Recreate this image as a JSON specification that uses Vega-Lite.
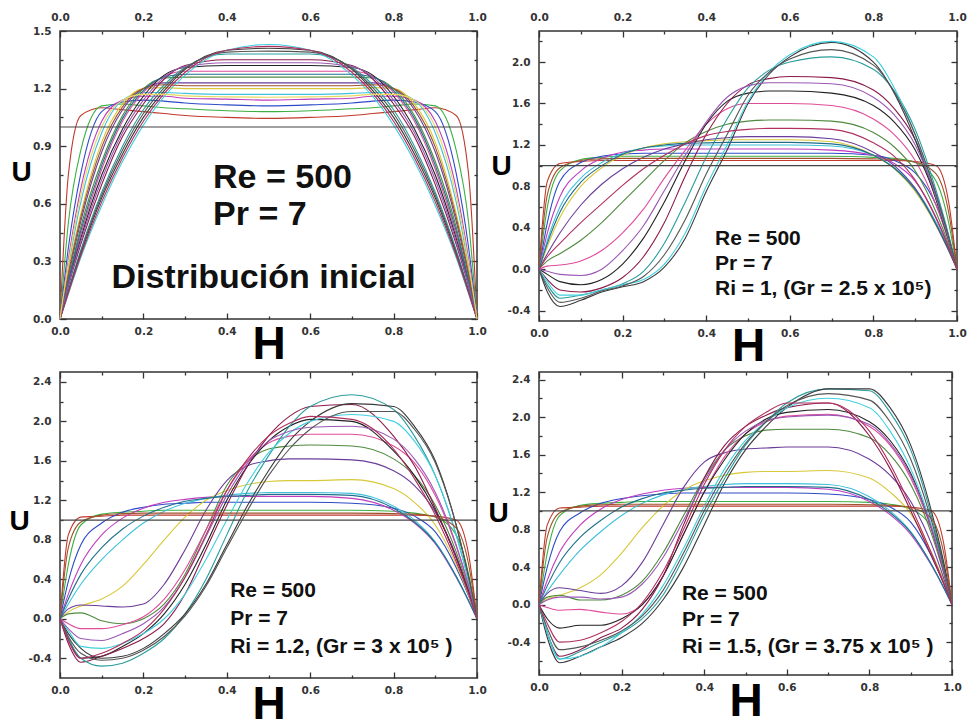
{
"$schema":"https://vega.github.io/schema/vega-lite/v6.json",
"background":"white",
"padding":{"left":8,"top":11,"right":5,"bottom":0},
"config":{
 "view":{"stroke":"#333","strokeWidth":1.5},
 "axis":{"domain":false,"grid":false,"tickColor":"#333","tickWidth":1.3,"labelFont":"DejaVu Sans","labelFontWeight":"bold","labelFontSize":10.5,"labelColor":"#333","titleFont":"Liberation Sans","titleFontWeight":"bold","titleColor":"#000","labelFlush":false,"labelOverlap":false,"labelBound":false},
 "locale":{"number":{"decimal":".","thousands":",","grouping":[3],"currency":["$",""],"minus":"-"}}
},
"datasets":{
"d1":[
{"c":1,"h":0,"u":0},{"c":1,"h":0.02,"u":0.75},{"c":1,"h":0.05,"u":1.06},{"c":1,"h":0.1,"u":1.1},{"c":1,"h":0.15,"u":1.09},{"c":1,"h":0.2,"u":1.08},{"c":1,"h":0.25,"u":1.07},{"c":1,"h":0.3,"u":1.06},{"c":1,"h":0.4,"u":1.05},{"c":1,"h":0.5,"u":1.045},{"c":1,"h":0.6,"u":1.05},{"c":1,"h":0.7,"u":1.06},{"c":1,"h":0.75,"u":1.07},{"c":1,"h":0.8,"u":1.08},{"c":1,"h":0.85,"u":1.09},{"c":1,"h":0.9,"u":1.1},{"c":1,"h":0.95,"u":1.06},{"c":1,"h":0.98,"u":0.75},{"c":1,"h":1,"u":0},
{"c":2,"h":0,"u":0},{"c":2,"h":0.02,"u":0.5},{"c":2,"h":0.05,"u":0.88},{"c":2,"h":0.1,"u":1.11},{"c":2,"h":0.15,"u":1.12},{"c":2,"h":0.2,"u":1.11},{"c":2,"h":0.25,"u":1.1},{"c":2,"h":0.3,"u":1.095},{"c":2,"h":0.4,"u":1.085},{"c":2,"h":0.5,"u":1.08},{"c":2,"h":0.6,"u":1.085},{"c":2,"h":0.7,"u":1.095},{"c":2,"h":0.75,"u":1.1},{"c":2,"h":0.8,"u":1.11},{"c":2,"h":0.85,"u":1.12},{"c":2,"h":0.9,"u":1.11},{"c":2,"h":0.95,"u":0.88},{"c":2,"h":0.98,"u":0.5},{"c":2,"h":1,"u":0},
{"c":3,"h":0,"u":0},{"c":3,"h":0.02,"u":0.37},{"c":3,"h":0.05,"u":0.76},{"c":3,"h":0.1,"u":1.08},{"c":3,"h":0.15,"u":1.13},{"c":3,"h":0.2,"u":1.14},{"c":3,"h":0.25,"u":1.135},{"c":3,"h":0.3,"u":1.125},{"c":3,"h":0.4,"u":1.115},{"c":3,"h":0.5,"u":1.11},{"c":3,"h":0.6,"u":1.115},{"c":3,"h":0.7,"u":1.125},{"c":3,"h":0.75,"u":1.135},{"c":3,"h":0.8,"u":1.14},{"c":3,"h":0.85,"u":1.13},{"c":3,"h":0.9,"u":1.08},{"c":3,"h":0.95,"u":0.76},{"c":3,"h":0.98,"u":0.37},{"c":3,"h":1,"u":0},
{"c":4,"h":0,"u":0},{"c":4,"h":0.02,"u":0.31},{"c":4,"h":0.05,"u":0.68},{"c":4,"h":0.1,"u":1.03},{"c":4,"h":0.15,"u":1.14},{"c":4,"h":0.2,"u":1.16},{"c":4,"h":0.25,"u":1.16},{"c":4,"h":0.3,"u":1.15},{"c":4,"h":0.4,"u":1.145},{"c":4,"h":0.5,"u":1.14},{"c":4,"h":0.6,"u":1.145},{"c":4,"h":0.7,"u":1.15},{"c":4,"h":0.75,"u":1.16},{"c":4,"h":0.8,"u":1.16},{"c":4,"h":0.85,"u":1.14},{"c":4,"h":0.9,"u":1.03},{"c":4,"h":0.95,"u":0.68},{"c":4,"h":0.98,"u":0.31},{"c":4,"h":1,"u":0},
{"c":5,"h":0,"u":0},{"c":5,"h":0.02,"u":0.27},{"c":5,"h":0.05,"u":0.61},{"c":5,"h":0.1,"u":0.97},{"c":5,"h":0.15,"u":1.14},{"c":5,"h":0.2,"u":1.18},{"c":5,"h":0.25,"u":1.18},{"c":5,"h":0.3,"u":1.175},{"c":5,"h":0.4,"u":1.17},{"c":5,"h":0.5,"u":1.17},{"c":5,"h":0.6,"u":1.17},{"c":5,"h":0.7,"u":1.175},{"c":5,"h":0.75,"u":1.18},{"c":5,"h":0.8,"u":1.18},{"c":5,"h":0.85,"u":1.14},{"c":5,"h":0.9,"u":0.97},{"c":5,"h":0.95,"u":0.61},{"c":5,"h":0.98,"u":0.27},{"c":5,"h":1,"u":0},
{"c":6,"h":0,"u":0},{"c":6,"h":0.02,"u":0.25},{"c":6,"h":0.05,"u":0.55},{"c":6,"h":0.1,"u":0.92},{"c":6,"h":0.15,"u":1.12},{"c":6,"h":0.2,"u":1.2},{"c":6,"h":0.25,"u":1.205},{"c":6,"h":0.3,"u":1.2},{"c":6,"h":0.4,"u":1.2},{"c":6,"h":0.5,"u":1.2},{"c":6,"h":0.6,"u":1.2},{"c":6,"h":0.7,"u":1.2},{"c":6,"h":0.75,"u":1.205},{"c":6,"h":0.8,"u":1.2},{"c":6,"h":0.85,"u":1.12},{"c":6,"h":0.9,"u":0.92},{"c":6,"h":0.95,"u":0.55},{"c":6,"h":0.98,"u":0.25},{"c":6,"h":1,"u":0},
{"c":7,"h":0,"u":0},{"c":7,"h":0.02,"u":0.22},{"c":7,"h":0.05,"u":0.51},{"c":7,"h":0.1,"u":0.87},{"c":7,"h":0.15,"u":1.09},{"c":7,"h":0.2,"u":1.2},{"c":7,"h":0.25,"u":1.23},{"c":7,"h":0.3,"u":1.23},{"c":7,"h":0.4,"u":1.23},{"c":7,"h":0.5,"u":1.23},{"c":7,"h":0.6,"u":1.23},{"c":7,"h":0.7,"u":1.23},{"c":7,"h":0.75,"u":1.23},{"c":7,"h":0.8,"u":1.2},{"c":7,"h":0.85,"u":1.09},{"c":7,"h":0.9,"u":0.87},{"c":7,"h":0.95,"u":0.51},{"c":7,"h":0.98,"u":0.22},{"c":7,"h":1,"u":0},
{"c":8,"h":0,"u":0},{"c":8,"h":0.02,"u":0.2},{"c":8,"h":0.05,"u":0.48},{"c":8,"h":0.1,"u":0.82},{"c":8,"h":0.15,"u":1.06},{"c":8,"h":0.2,"u":1.2},{"c":8,"h":0.25,"u":1.255},{"c":8,"h":0.3,"u":1.26},{"c":8,"h":0.4,"u":1.26},{"c":8,"h":0.5,"u":1.26},{"c":8,"h":0.6,"u":1.26},{"c":8,"h":0.7,"u":1.26},{"c":8,"h":0.75,"u":1.255},{"c":8,"h":0.8,"u":1.2},{"c":8,"h":0.85,"u":1.06},{"c":8,"h":0.9,"u":0.82},{"c":8,"h":0.95,"u":0.48},{"c":8,"h":0.98,"u":0.2},{"c":8,"h":1,"u":0},
{"c":9,"h":0,"u":0},{"c":9,"h":0.02,"u":0.19},{"c":9,"h":0.05,"u":0.44},{"c":9,"h":0.1,"u":0.78},{"c":9,"h":0.15,"u":1.03},{"c":9,"h":0.2,"u":1.18},{"c":9,"h":0.25,"u":1.265},{"c":9,"h":0.3,"u":1.29},{"c":9,"h":0.4,"u":1.29},{"c":9,"h":0.5,"u":1.29},{"c":9,"h":0.6,"u":1.29},{"c":9,"h":0.7,"u":1.29},{"c":9,"h":0.75,"u":1.265},{"c":9,"h":0.8,"u":1.18},{"c":9,"h":0.85,"u":1.03},{"c":9,"h":0.9,"u":0.78},{"c":9,"h":0.95,"u":0.44},{"c":9,"h":0.98,"u":0.19},{"c":9,"h":1,"u":0},
{"c":10,"h":0,"u":0},{"c":10,"h":0.02,"u":0.18},{"c":10,"h":0.05,"u":0.42},{"c":10,"h":0.1,"u":0.75},{"c":10,"h":0.15,"u":0.99},{"c":10,"h":0.2,"u":1.16},{"c":10,"h":0.25,"u":1.27},{"c":10,"h":0.3,"u":1.31},{"c":10,"h":0.4,"u":1.32},{"c":10,"h":0.5,"u":1.32},{"c":10,"h":0.6,"u":1.32},{"c":10,"h":0.7,"u":1.31},{"c":10,"h":0.75,"u":1.27},{"c":10,"h":0.8,"u":1.16},{"c":10,"h":0.85,"u":0.99},{"c":10,"h":0.9,"u":0.75},{"c":10,"h":0.95,"u":0.42},{"c":10,"h":0.98,"u":0.18},{"c":10,"h":1,"u":0},
{"c":11,"h":0,"u":0},{"c":11,"h":0.02,"u":0.17},{"c":11,"h":0.05,"u":0.39},{"c":11,"h":0.1,"u":0.7},{"c":11,"h":0.15,"u":0.95},{"c":11,"h":0.2,"u":1.12},{"c":11,"h":0.25,"u":1.25},{"c":11,"h":0.3,"u":1.32},{"c":11,"h":0.4,"u":1.35},{"c":11,"h":0.5,"u":1.35},{"c":11,"h":0.6,"u":1.35},{"c":11,"h":0.7,"u":1.32},{"c":11,"h":0.75,"u":1.25},{"c":11,"h":0.8,"u":1.12},{"c":11,"h":0.85,"u":0.95},{"c":11,"h":0.9,"u":0.7},{"c":11,"h":0.95,"u":0.39},{"c":11,"h":0.98,"u":0.17},{"c":11,"h":1,"u":0},
{"c":12,"h":0,"u":0},{"c":12,"h":0.02,"u":0.15},{"c":12,"h":0.05,"u":0.36},{"c":12,"h":0.1,"u":0.66},{"c":12,"h":0.15,"u":0.9},{"c":12,"h":0.2,"u":1.09},{"c":12,"h":0.25,"u":1.22},{"c":12,"h":0.3,"u":1.31},{"c":12,"h":0.4,"u":1.38},{"c":12,"h":0.5,"u":1.38},{"c":12,"h":0.6,"u":1.38},{"c":12,"h":0.7,"u":1.31},{"c":12,"h":0.75,"u":1.22},{"c":12,"h":0.8,"u":1.09},{"c":12,"h":0.85,"u":0.9},{"c":12,"h":0.9,"u":0.66},{"c":12,"h":0.95,"u":0.36},{"c":12,"h":0.98,"u":0.15},{"c":12,"h":1,"u":0},
{"c":13,"h":0,"u":0},{"c":13,"h":0.02,"u":0.14},{"c":13,"h":0.05,"u":0.34},{"c":13,"h":0.1,"u":0.63},{"c":13,"h":0.15,"u":0.86},{"c":13,"h":0.2,"u":1.05},{"c":13,"h":0.25,"u":1.19},{"c":13,"h":0.3,"u":1.3},{"c":13,"h":0.4,"u":1.4},{"c":13,"h":0.5,"u":1.41},{"c":13,"h":0.6,"u":1.4},{"c":13,"h":0.7,"u":1.3},{"c":13,"h":0.75,"u":1.19},{"c":13,"h":0.8,"u":1.05},{"c":13,"h":0.85,"u":0.86},{"c":13,"h":0.9,"u":0.63},{"c":13,"h":0.95,"u":0.34},{"c":13,"h":0.98,"u":0.14},{"c":13,"h":1,"u":0},
{"c":14,"h":0,"u":0},{"c":14,"h":0.02,"u":0.13},{"c":14,"h":0.05,"u":0.32},{"c":14,"h":0.1,"u":0.59},{"c":14,"h":0.15,"u":0.82},{"c":14,"h":0.2,"u":1.01},{"c":14,"h":0.25,"u":1.16},{"c":14,"h":0.3,"u":1.27},{"c":14,"h":0.4,"u":1.4},{"c":14,"h":0.5,"u":1.43},{"c":14,"h":0.6,"u":1.4},{"c":14,"h":0.7,"u":1.27},{"c":14,"h":0.75,"u":1.16},{"c":14,"h":0.8,"u":1.01},{"c":14,"h":0.85,"u":0.82},{"c":14,"h":0.9,"u":0.59},{"c":14,"h":0.95,"u":0.32},{"c":14,"h":0.98,"u":0.13},{"c":14,"h":1,"u":0},
{"c":15,"h":0,"u":0},{"c":15,"h":0.02,"u":0.235},{"c":15,"h":0.05,"u":0.53},{"c":15,"h":0.1,"u":0.895},{"c":15,"h":0.15,"u":1.105},{"c":15,"h":0.2,"u":1.2},{"c":15,"h":0.25,"u":1.22},{"c":15,"h":0.3,"u":1.215},{"c":15,"h":0.4,"u":1.215},{"c":15,"h":0.5,"u":1.215},{"c":15,"h":0.6,"u":1.215},{"c":15,"h":0.7,"u":1.215},{"c":15,"h":0.75,"u":1.22},{"c":15,"h":0.8,"u":1.2},{"c":15,"h":0.85,"u":1.105},{"c":15,"h":0.9,"u":0.895},{"c":15,"h":0.95,"u":0.53},{"c":15,"h":0.98,"u":0.235},{"c":15,"h":1,"u":0},
{"c":16,"h":0,"u":0},{"c":16,"h":0.02,"u":0.195},{"c":16,"h":0.05,"u":0.46},{"c":16,"h":0.1,"u":0.8},{"c":16,"h":0.15,"u":1.045},{"c":16,"h":0.2,"u":1.19},{"c":16,"h":0.25,"u":1.26},{"c":16,"h":0.3,"u":1.275},{"c":16,"h":0.4,"u":1.275},{"c":16,"h":0.5,"u":1.275},{"c":16,"h":0.6,"u":1.275},{"c":16,"h":0.7,"u":1.275},{"c":16,"h":0.75,"u":1.26},{"c":16,"h":0.8,"u":1.19},{"c":16,"h":0.85,"u":1.045},{"c":16,"h":0.9,"u":0.8},{"c":16,"h":0.95,"u":0.46},{"c":16,"h":0.98,"u":0.195},{"c":16,"h":1,"u":0},
{"c":17,"h":0,"u":0},{"c":17,"h":0.02,"u":0.175},{"c":17,"h":0.05,"u":0.405},{"c":17,"h":0.1,"u":0.725},{"c":17,"h":0.15,"u":0.97},{"c":17,"h":0.2,"u":1.14},{"c":17,"h":0.25,"u":1.26},{"c":17,"h":0.3,"u":1.315},{"c":17,"h":0.4,"u":1.335},{"c":17,"h":0.5,"u":1.335},{"c":17,"h":0.6,"u":1.335},{"c":17,"h":0.7,"u":1.315},{"c":17,"h":0.75,"u":1.26},{"c":17,"h":0.8,"u":1.14},{"c":17,"h":0.85,"u":0.97},{"c":17,"h":0.9,"u":0.725},{"c":17,"h":0.95,"u":0.405},{"c":17,"h":0.98,"u":0.175},{"c":17,"h":1,"u":0},
{"c":18,"h":0,"u":0},{"c":18,"h":0.02,"u":0.145},{"c":18,"h":0.05,"u":0.35},{"c":18,"h":0.1,"u":0.645},{"c":18,"h":0.15,"u":0.88},{"c":18,"h":0.2,"u":1.07},{"c":18,"h":0.25,"u":1.205},{"c":18,"h":0.3,"u":1.305},{"c":18,"h":0.4,"u":1.39},{"c":18,"h":0.5,"u":1.395},{"c":18,"h":0.6,"u":1.39},{"c":18,"h":0.7,"u":1.305},{"c":18,"h":0.75,"u":1.205},{"c":18,"h":0.8,"u":1.07},{"c":18,"h":0.85,"u":0.88},{"c":18,"h":0.9,"u":0.645},{"c":18,"h":0.95,"u":0.35},{"c":18,"h":0.98,"u":0.145},{"c":18,"h":1,"u":0},
{"c":19,"h":0,"u":0},{"c":19,"h":0.02,"u":0.135},{"c":19,"h":0.05,"u":0.33},{"c":19,"h":0.1,"u":0.61},{"c":19,"h":0.15,"u":0.84},{"c":19,"h":0.2,"u":1.03},{"c":19,"h":0.25,"u":1.175},{"c":19,"h":0.3,"u":1.285},{"c":19,"h":0.4,"u":1.4},{"c":19,"h":0.5,"u":1.42},{"c":19,"h":0.6,"u":1.4},{"c":19,"h":0.7,"u":1.285},{"c":19,"h":0.75,"u":1.175},{"c":19,"h":0.8,"u":1.03},{"c":19,"h":0.85,"u":0.84},{"c":19,"h":0.9,"u":0.61},{"c":19,"h":0.95,"u":0.33},{"c":19,"h":0.98,"u":0.135},{"c":19,"h":1,"u":0},
{"c":20,"h":0,"u":0},{"c":20,"h":0.02,"u":0.29},{"c":20,"h":0.05,"u":0.645},{"c":20,"h":0.1,"u":1.0},{"c":20,"h":0.15,"u":1.14},{"c":20,"h":0.2,"u":1.17},{"c":20,"h":0.25,"u":1.17},{"c":20,"h":0.3,"u":1.162},{"c":20,"h":0.4,"u":1.157},{"c":20,"h":0.5,"u":1.155},{"c":20,"h":0.6,"u":1.157},{"c":20,"h":0.7,"u":1.162},{"c":20,"h":0.75,"u":1.17},{"c":20,"h":0.8,"u":1.17},{"c":20,"h":0.85,"u":1.14},{"c":20,"h":0.9,"u":1.0},{"c":20,"h":0.95,"u":0.645},{"c":20,"h":0.98,"u":0.29},{"c":20,"h":1,"u":0}
],
"d2":[
{"c":1,"h":0,"u":0},{"c":1,"h":0.02,"u":0.85},{"c":1,"h":0.05,"u":1.02},{"c":1,"h":0.1,"u":1.04},{"c":1,"h":0.15,"u":1.05},{"c":1,"h":0.2,"u":1.05},{"c":1,"h":0.25,"u":1.05},{"c":1,"h":0.3,"u":1.05},{"c":1,"h":0.35,"u":1.05},{"c":1,"h":0.4,"u":1.05},{"c":1,"h":0.45,"u":1.05},{"c":1,"h":0.5,"u":1.05},{"c":1,"h":0.55,"u":1.05},{"c":1,"h":0.6,"u":1.05},{"c":1,"h":0.7,"u":1.05},{"c":1,"h":0.8,"u":1.05},{"c":1,"h":0.85,"u":1.05},{"c":1,"h":0.9,"u":1.04},{"c":1,"h":0.95,"u":1.0},{"c":1,"h":0.98,"u":0.65},{"c":1,"h":1,"u":0},
{"c":2,"h":0,"u":0},{"c":2,"h":0.02,"u":0.6},{"c":2,"h":0.05,"u":0.95},{"c":2,"h":0.1,"u":1.06},{"c":2,"h":0.15,"u":1.08},{"c":2,"h":0.2,"u":1.09},{"c":2,"h":0.25,"u":1.09},{"c":2,"h":0.3,"u":1.09},{"c":2,"h":0.35,"u":1.09},{"c":2,"h":0.4,"u":1.09},{"c":2,"h":0.45,"u":1.09},{"c":2,"h":0.5,"u":1.09},{"c":2,"h":0.55,"u":1.09},{"c":2,"h":0.6,"u":1.09},{"c":2,"h":0.7,"u":1.09},{"c":2,"h":0.8,"u":1.08},{"c":2,"h":0.85,"u":1.07},{"c":2,"h":0.9,"u":1.03},{"c":2,"h":0.95,"u":0.85},{"c":2,"h":0.98,"u":0.45},{"c":2,"h":1,"u":0},
{"c":3,"h":0,"u":0},{"c":3,"h":0.02,"u":0.45},{"c":3,"h":0.05,"u":0.85},{"c":3,"h":0.1,"u":1.03},{"c":3,"h":0.15,"u":1.09},{"c":3,"h":0.2,"u":1.11},{"c":3,"h":0.25,"u":1.12},{"c":3,"h":0.3,"u":1.12},{"c":3,"h":0.35,"u":1.12},{"c":3,"h":0.4,"u":1.12},{"c":3,"h":0.45,"u":1.12},{"c":3,"h":0.5,"u":1.12},{"c":3,"h":0.55,"u":1.12},{"c":3,"h":0.6,"u":1.12},{"c":3,"h":0.7,"u":1.12},{"c":3,"h":0.8,"u":1.1},{"c":3,"h":0.85,"u":1.05},{"c":3,"h":0.9,"u":0.93},{"c":3,"h":0.95,"u":0.62},{"c":3,"h":0.98,"u":0.28},{"c":3,"h":1,"u":0},
{"c":4,"h":0,"u":0},{"c":4,"h":0.02,"u":0.35},{"c":4,"h":0.05,"u":0.7},{"c":4,"h":0.1,"u":0.95},{"c":4,"h":0.15,"u":1.07},{"c":4,"h":0.2,"u":1.13},{"c":4,"h":0.25,"u":1.15},{"c":4,"h":0.3,"u":1.16},{"c":4,"h":0.35,"u":1.16},{"c":4,"h":0.4,"u":1.16},{"c":4,"h":0.45,"u":1.16},{"c":4,"h":0.5,"u":1.16},{"c":4,"h":0.55,"u":1.16},{"c":4,"h":0.6,"u":1.16},{"c":4,"h":0.7,"u":1.15},{"c":4,"h":0.8,"u":1.1},{"c":4,"h":0.85,"u":1.02},{"c":4,"h":0.9,"u":0.85},{"c":4,"h":0.95,"u":0.5},{"c":4,"h":0.98,"u":0.22},{"c":4,"h":1,"u":0},
{"c":5,"h":0,"u":0},{"c":5,"h":0.02,"u":0.28},{"c":5,"h":0.05,"u":0.6},{"c":5,"h":0.1,"u":0.88},{"c":5,"h":0.15,"u":1.03},{"c":5,"h":0.2,"u":1.12},{"c":5,"h":0.25,"u":1.17},{"c":5,"h":0.3,"u":1.19},{"c":5,"h":0.35,"u":1.2},{"c":5,"h":0.4,"u":1.2},{"c":5,"h":0.45,"u":1.2},{"c":5,"h":0.5,"u":1.2},{"c":5,"h":0.55,"u":1.2},{"c":5,"h":0.6,"u":1.2},{"c":5,"h":0.7,"u":1.19},{"c":5,"h":0.8,"u":1.1},{"c":5,"h":0.85,"u":0.98},{"c":5,"h":0.9,"u":0.78},{"c":5,"h":0.95,"u":0.45},{"c":5,"h":0.98,"u":0.2},{"c":5,"h":1,"u":0},
{"c":6,"h":0,"u":0},{"c":6,"h":0.02,"u":0.22},{"c":6,"h":0.05,"u":0.5},{"c":6,"h":0.1,"u":0.8},{"c":6,"h":0.15,"u":0.98},{"c":6,"h":0.2,"u":1.1},{"c":6,"h":0.25,"u":1.17},{"c":6,"h":0.3,"u":1.21},{"c":6,"h":0.35,"u":1.23},{"c":6,"h":0.4,"u":1.24},{"c":6,"h":0.45,"u":1.25},{"c":6,"h":0.5,"u":1.25},{"c":6,"h":0.55,"u":1.25},{"c":6,"h":0.6,"u":1.25},{"c":6,"h":0.7,"u":1.23},{"c":6,"h":0.8,"u":1.1},{"c":6,"h":0.85,"u":0.97},{"c":6,"h":0.9,"u":0.75},{"c":6,"h":0.95,"u":0.42},{"c":6,"h":0.98,"u":0.18},{"c":6,"h":1,"u":0},
{"c":7,"h":0,"u":0},{"c":7,"h":0.02,"u":0.15},{"c":7,"h":0.05,"u":0.35},{"c":7,"h":0.1,"u":0.62},{"c":7,"h":0.15,"u":0.82},{"c":7,"h":0.2,"u":0.97},{"c":7,"h":0.25,"u":1.08},{"c":7,"h":0.3,"u":1.16},{"c":7,"h":0.35,"u":1.21},{"c":7,"h":0.4,"u":1.25},{"c":7,"h":0.45,"u":1.27},{"c":7,"h":0.5,"u":1.28},{"c":7,"h":0.55,"u":1.28},{"c":7,"h":0.6,"u":1.28},{"c":7,"h":0.7,"u":1.26},{"c":7,"h":0.8,"u":1.13},{"c":7,"h":0.85,"u":1.0},{"c":7,"h":0.9,"u":0.78},{"c":7,"h":0.95,"u":0.43},{"c":7,"h":0.98,"u":0.18},{"c":7,"h":1,"u":0},
{"c":8,"h":0,"u":0},{"c":8,"h":0.02,"u":0.08},{"c":8,"h":0.05,"u":0.15},{"c":8,"h":0.1,"u":0.28},{"c":8,"h":0.15,"u":0.45},{"c":8,"h":0.2,"u":0.65},{"c":8,"h":0.25,"u":0.85},{"c":8,"h":0.3,"u":1.05},{"c":8,"h":0.35,"u":1.22},{"c":8,"h":0.4,"u":1.33},{"c":8,"h":0.45,"u":1.4},{"c":8,"h":0.5,"u":1.43},{"c":8,"h":0.55,"u":1.44},{"c":8,"h":0.6,"u":1.44},{"c":8,"h":0.7,"u":1.43},{"c":8,"h":0.8,"u":1.32},{"c":8,"h":0.85,"u":1.18},{"c":8,"h":0.9,"u":0.95},{"c":8,"h":0.95,"u":0.55},{"c":8,"h":0.98,"u":0.24},{"c":8,"h":1,"u":0},
{"c":9,"h":0,"u":0},{"c":9,"h":0.02,"u":0.03},{"c":9,"h":0.05,"u":0.04},{"c":9,"h":0.1,"u":0.08},{"c":9,"h":0.15,"u":0.18},{"c":9,"h":0.2,"u":0.35},{"c":9,"h":0.25,"u":0.58},{"c":9,"h":0.3,"u":0.88},{"c":9,"h":0.35,"u":1.15},{"c":9,"h":0.4,"u":1.4},{"c":9,"h":0.45,"u":1.55},{"c":9,"h":0.5,"u":1.6},{"c":9,"h":0.55,"u":1.6},{"c":9,"h":0.6,"u":1.6},{"c":9,"h":0.7,"u":1.58},{"c":9,"h":0.8,"u":1.45},{"c":9,"h":0.85,"u":1.3},{"c":9,"h":0.9,"u":1.05},{"c":9,"h":0.95,"u":0.62},{"c":9,"h":0.98,"u":0.27},{"c":9,"h":1,"u":0},
{"c":10,"h":0,"u":0},{"c":10,"h":0.02,"u":-0.05},{"c":10,"h":0.05,"u":-0.12},{"c":10,"h":0.1,"u":-0.15},{"c":10,"h":0.15,"u":-0.1},{"c":10,"h":0.2,"u":0.05},{"c":10,"h":0.25,"u":0.3},{"c":10,"h":0.3,"u":0.65},{"c":10,"h":0.35,"u":1.05},{"c":10,"h":0.4,"u":1.4},{"c":10,"h":0.45,"u":1.62},{"c":10,"h":0.5,"u":1.7},{"c":10,"h":0.55,"u":1.72},{"c":10,"h":0.6,"u":1.72},{"c":10,"h":0.7,"u":1.7},{"c":10,"h":0.8,"u":1.58},{"c":10,"h":0.85,"u":1.42},{"c":10,"h":0.9,"u":1.15},{"c":10,"h":0.95,"u":0.68},{"c":10,"h":0.98,"u":0.3},{"c":10,"h":1,"u":0},
{"c":11,"h":0,"u":0},{"c":11,"h":0.02,"u":-0.1},{"c":11,"h":0.05,"u":-0.2},{"c":11,"h":0.1,"u":-0.22},{"c":11,"h":0.15,"u":-0.18},{"c":11,"h":0.2,"u":-0.08},{"c":11,"h":0.25,"u":0.12},{"c":11,"h":0.3,"u":0.45},{"c":11,"h":0.35,"u":0.9},{"c":11,"h":0.4,"u":1.3},{"c":11,"h":0.45,"u":1.6},{"c":11,"h":0.5,"u":1.78},{"c":11,"h":0.55,"u":1.84},{"c":11,"h":0.6,"u":1.86},{"c":11,"h":0.7,"u":1.85},{"c":11,"h":0.8,"u":1.73},{"c":11,"h":0.85,"u":1.55},{"c":11,"h":0.9,"u":1.25},{"c":11,"h":0.95,"u":0.72},{"c":11,"h":0.98,"u":0.32},{"c":11,"h":1,"u":0},
{"c":12,"h":0,"u":0},{"c":12,"h":0.02,"u":-0.15},{"c":12,"h":0.05,"u":-0.28},{"c":12,"h":0.1,"u":-0.25},{"c":12,"h":0.15,"u":-0.2},{"c":12,"h":0.2,"u":-0.14},{"c":12,"h":0.25,"u":-0.02},{"c":12,"h":0.3,"u":0.25},{"c":12,"h":0.35,"u":0.65},{"c":12,"h":0.4,"u":1.08},{"c":12,"h":0.45,"u":1.45},{"c":12,"h":0.5,"u":1.75},{"c":12,"h":0.55,"u":1.92},{"c":12,"h":0.6,"u":2.0},{"c":12,"h":0.7,"u":2.05},{"c":12,"h":0.8,"u":1.93},{"c":12,"h":0.85,"u":1.72},{"c":12,"h":0.9,"u":1.35},{"c":12,"h":0.95,"u":0.76},{"c":12,"h":0.98,"u":0.33},{"c":12,"h":1,"u":0},
{"c":13,"h":0,"u":0},{"c":13,"h":0.02,"u":-0.22},{"c":13,"h":0.05,"u":-0.36},{"c":13,"h":0.1,"u":-0.3},{"c":13,"h":0.15,"u":-0.22},{"c":13,"h":0.2,"u":-0.17},{"c":13,"h":0.25,"u":-0.12},{"c":13,"h":0.3,"u":0.02},{"c":13,"h":0.35,"u":0.3},{"c":13,"h":0.4,"u":0.75},{"c":13,"h":0.45,"u":1.15},{"c":13,"h":0.5,"u":1.6},{"c":13,"h":0.55,"u":1.88},{"c":13,"h":0.6,"u":2.05},{"c":13,"h":0.7,"u":2.19},{"c":13,"h":0.8,"u":2.0},{"c":13,"h":0.85,"u":1.7},{"c":13,"h":0.9,"u":1.25},{"c":13,"h":0.95,"u":0.67},{"c":13,"h":0.98,"u":0.28},{"c":13,"h":1,"u":0},
{"c":14,"h":0,"u":0},{"c":14,"h":0.02,"u":-0.12},{"c":14,"h":0.05,"u":-0.25},{"c":14,"h":0.1,"u":-0.25},{"c":14,"h":0.15,"u":-0.2},{"c":14,"h":0.2,"u":-0.15},{"c":14,"h":0.25,"u":-0.1},{"c":14,"h":0.3,"u":0.05},{"c":14,"h":0.35,"u":0.35},{"c":14,"h":0.4,"u":0.8},{"c":14,"h":0.45,"u":1.2},{"c":14,"h":0.5,"u":1.62},{"c":14,"h":0.55,"u":1.9},{"c":14,"h":0.6,"u":2.07},{"c":14,"h":0.7,"u":2.2},{"c":14,"h":0.8,"u":2.05},{"c":14,"h":0.85,"u":1.75},{"c":14,"h":0.9,"u":1.3},{"c":14,"h":0.95,"u":0.7},{"c":14,"h":0.98,"u":0.3},{"c":14,"h":1,"u":0},
{"c":15,"h":0,"u":0},{"c":15,"h":0.02,"u":0.72},{"c":15,"h":0.05,"u":0.98},{"c":15,"h":0.1,"u":1.05},{"c":15,"h":0.15,"u":1.065},{"c":15,"h":0.2,"u":1.07},{"c":15,"h":0.25,"u":1.07},{"c":15,"h":0.3,"u":1.07},{"c":15,"h":0.35,"u":1.07},{"c":15,"h":0.4,"u":1.07},{"c":15,"h":0.45,"u":1.07},{"c":15,"h":0.5,"u":1.07},{"c":15,"h":0.55,"u":1.07},{"c":15,"h":0.6,"u":1.07},{"c":15,"h":0.7,"u":1.07},{"c":15,"h":0.8,"u":1.065},{"c":15,"h":0.85,"u":1.06},{"c":15,"h":0.9,"u":1.035},{"c":15,"h":0.95,"u":0.92},{"c":15,"h":0.98,"u":0.55},{"c":15,"h":1,"u":0},
{"c":16,"h":0,"u":0},{"c":16,"h":0.02,"u":0.25},{"c":16,"h":0.05,"u":0.55},{"c":16,"h":0.1,"u":0.84},{"c":16,"h":0.15,"u":1.0},{"c":16,"h":0.2,"u":1.11},{"c":16,"h":0.25,"u":1.17},{"c":16,"h":0.3,"u":1.2},{"c":16,"h":0.35,"u":1.215},{"c":16,"h":0.4,"u":1.22},{"c":16,"h":0.45,"u":1.225},{"c":16,"h":0.5,"u":1.225},{"c":16,"h":0.55,"u":1.225},{"c":16,"h":0.6,"u":1.225},{"c":16,"h":0.7,"u":1.21},{"c":16,"h":0.8,"u":1.1},{"c":16,"h":0.85,"u":0.975},{"c":16,"h":0.9,"u":0.765},{"c":16,"h":0.95,"u":0.435},{"c":16,"h":0.98,"u":0.19},{"c":16,"h":1,"u":0},
{"c":17,"h":0,"u":0},{"c":17,"h":0.02,"u":-0.02},{"c":17,"h":0.05,"u":-0.05},{"c":17,"h":0.1,"u":-0.06},{"c":17,"h":0.15,"u":0},{"c":17,"h":0.2,"u":0.18},{"c":17,"h":0.25,"u":0.42},{"c":17,"h":0.3,"u":0.76},{"c":17,"h":0.35,"u":1.1},{"c":17,"h":0.4,"u":1.42},{"c":17,"h":0.45,"u":1.66},{"c":17,"h":0.5,"u":1.77},{"c":17,"h":0.55,"u":1.8},{"c":17,"h":0.6,"u":1.8},{"c":17,"h":0.7,"u":1.79},{"c":17,"h":0.8,"u":1.66},{"c":17,"h":0.85,"u":1.49},{"c":17,"h":0.9,"u":1.2},{"c":17,"h":0.95,"u":0.7},{"c":17,"h":0.98,"u":0.3},{"c":17,"h":1,"u":0},
{"c":18,"h":0,"u":0},{"c":18,"h":0.02,"u":-0.18},{"c":18,"h":0.05,"u":-0.32},{"c":18,"h":0.1,"u":-0.28},{"c":18,"h":0.15,"u":-0.21},{"c":18,"h":0.2,"u":-0.16},{"c":18,"h":0.25,"u":-0.07},{"c":18,"h":0.3,"u":0.14},{"c":18,"h":0.35,"u":0.48},{"c":18,"h":0.4,"u":0.92},{"c":18,"h":0.45,"u":1.3},{"c":18,"h":0.5,"u":1.68},{"c":18,"h":0.55,"u":1.9},{"c":18,"h":0.6,"u":2.03},{"c":18,"h":0.7,"u":2.12},{"c":18,"h":0.8,"u":1.97},{"c":18,"h":0.85,"u":1.71},{"c":18,"h":0.9,"u":1.3},{"c":18,"h":0.95,"u":0.72},{"c":18,"h":0.98,"u":0.31},{"c":18,"h":1,"u":0},
{"c":19,"h":0,"u":0},{"c":19,"h":0.02,"u":0.12},{"c":19,"h":0.05,"u":0.25},{"c":19,"h":0.1,"u":0.45},{"c":19,"h":0.15,"u":0.63},{"c":19,"h":0.2,"u":0.81},{"c":19,"h":0.25,"u":0.97},{"c":19,"h":0.3,"u":1.1},{"c":19,"h":0.35,"u":1.21},{"c":19,"h":0.4,"u":1.29},{"c":19,"h":0.45,"u":1.33},{"c":19,"h":0.5,"u":1.35},{"c":19,"h":0.55,"u":1.36},{"c":19,"h":0.6,"u":1.36},{"c":19,"h":0.7,"u":1.35},{"c":19,"h":0.8,"u":1.22},{"c":19,"h":0.85,"u":1.09},{"c":19,"h":0.9,"u":0.86},{"c":19,"h":0.95,"u":0.49},{"c":19,"h":0.98,"u":0.21},{"c":19,"h":1,"u":0}
],
"d3":[
{"c":1,"h":0,"u":0},{"c":1,"h":0.02,"u":0.85},{"c":1,"h":0.05,"u":1.03},{"c":1,"h":0.1,"u":1.04},{"c":1,"h":0.15,"u":1.05},{"c":1,"h":0.2,"u":1.05},{"c":1,"h":0.25,"u":1.05},{"c":1,"h":0.3,"u":1.05},{"c":1,"h":0.35,"u":1.05},{"c":1,"h":0.4,"u":1.05},{"c":1,"h":0.45,"u":1.05},{"c":1,"h":0.5,"u":1.05},{"c":1,"h":0.55,"u":1.05},{"c":1,"h":0.6,"u":1.05},{"c":1,"h":0.7,"u":1.05},{"c":1,"h":0.8,"u":1.05},{"c":1,"h":0.85,"u":1.05},{"c":1,"h":0.9,"u":1.04},{"c":1,"h":0.95,"u":1.0},{"c":1,"h":0.98,"u":0.65},{"c":1,"h":1,"u":0},
{"c":2,"h":0,"u":0},{"c":2,"h":0.02,"u":0.55},{"c":2,"h":0.05,"u":0.95},{"c":2,"h":0.1,"u":1.06},{"c":2,"h":0.15,"u":1.08},{"c":2,"h":0.2,"u":1.09},{"c":2,"h":0.25,"u":1.1},{"c":2,"h":0.3,"u":1.1},{"c":2,"h":0.35,"u":1.1},{"c":2,"h":0.4,"u":1.1},{"c":2,"h":0.45,"u":1.1},{"c":2,"h":0.5,"u":1.1},{"c":2,"h":0.55,"u":1.1},{"c":2,"h":0.6,"u":1.1},{"c":2,"h":0.7,"u":1.1},{"c":2,"h":0.8,"u":1.09},{"c":2,"h":0.85,"u":1.07},{"c":2,"h":0.9,"u":1.03},{"c":2,"h":0.95,"u":0.85},{"c":2,"h":0.98,"u":0.45},{"c":2,"h":1,"u":0},
{"c":3,"h":0,"u":0},{"c":3,"h":0.02,"u":0.38},{"c":3,"h":0.05,"u":0.75},{"c":3,"h":0.1,"u":0.97},{"c":3,"h":0.15,"u":1.08},{"c":3,"h":0.2,"u":1.13},{"c":3,"h":0.25,"u":1.16},{"c":3,"h":0.3,"u":1.17},{"c":3,"h":0.35,"u":1.18},{"c":3,"h":0.4,"u":1.18},{"c":3,"h":0.45,"u":1.18},{"c":3,"h":0.5,"u":1.18},{"c":3,"h":0.55,"u":1.18},{"c":3,"h":0.6,"u":1.18},{"c":3,"h":0.7,"u":1.17},{"c":3,"h":0.8,"u":1.12},{"c":3,"h":0.85,"u":1.04},{"c":3,"h":0.9,"u":0.88},{"c":3,"h":0.95,"u":0.52},{"c":3,"h":0.98,"u":0.23},{"c":3,"h":1,"u":0},
{"c":4,"h":0,"u":0},{"c":4,"h":0.02,"u":0.25},{"c":4,"h":0.05,"u":0.55},{"c":4,"h":0.1,"u":0.85},{"c":4,"h":0.15,"u":1.02},{"c":4,"h":0.2,"u":1.12},{"c":4,"h":0.25,"u":1.18},{"c":4,"h":0.3,"u":1.21},{"c":4,"h":0.35,"u":1.23},{"c":4,"h":0.4,"u":1.24},{"c":4,"h":0.45,"u":1.24},{"c":4,"h":0.5,"u":1.24},{"c":4,"h":0.55,"u":1.24},{"c":4,"h":0.6,"u":1.24},{"c":4,"h":0.7,"u":1.22},{"c":4,"h":0.8,"u":1.1},{"c":4,"h":0.85,"u":0.97},{"c":4,"h":0.9,"u":0.76},{"c":4,"h":0.95,"u":0.42},{"c":4,"h":0.98,"u":0.18},{"c":4,"h":1,"u":0},
{"c":5,"h":0,"u":0},{"c":5,"h":0.02,"u":0.15},{"c":5,"h":0.05,"u":0.35},{"c":5,"h":0.1,"u":0.6},{"c":5,"h":0.15,"u":0.8},{"c":5,"h":0.2,"u":0.97},{"c":5,"h":0.25,"u":1.09},{"c":5,"h":0.3,"u":1.17},{"c":5,"h":0.35,"u":1.22},{"c":5,"h":0.4,"u":1.25},{"c":5,"h":0.45,"u":1.27},{"c":5,"h":0.5,"u":1.28},{"c":5,"h":0.55,"u":1.28},{"c":5,"h":0.6,"u":1.28},{"c":5,"h":0.7,"u":1.27},{"c":5,"h":0.8,"u":1.14},{"c":5,"h":0.85,"u":1.0},{"c":5,"h":0.9,"u":0.78},{"c":5,"h":0.95,"u":0.43},{"c":5,"h":0.98,"u":0.18},{"c":5,"h":1,"u":0},
{"c":6,"h":0,"u":0},{"c":6,"h":0.02,"u":0.07},{"c":6,"h":0.05,"u":0.13},{"c":6,"h":0.1,"u":0.2},{"c":6,"h":0.15,"u":0.33},{"c":6,"h":0.2,"u":0.55},{"c":6,"h":0.25,"u":0.8},{"c":6,"h":0.3,"u":1.03},{"c":6,"h":0.35,"u":1.2},{"c":6,"h":0.4,"u":1.3},{"c":6,"h":0.45,"u":1.36},{"c":6,"h":0.5,"u":1.39},{"c":6,"h":0.55,"u":1.4},{"c":6,"h":0.6,"u":1.4},{"c":6,"h":0.7,"u":1.41},{"c":6,"h":0.8,"u":1.32},{"c":6,"h":0.85,"u":1.18},{"c":6,"h":0.9,"u":0.95},{"c":6,"h":0.95,"u":0.55},{"c":6,"h":0.98,"u":0.24},{"c":6,"h":1,"u":0},
{"c":7,"h":0,"u":0},{"c":7,"h":0.02,"u":0.1},{"c":7,"h":0.05,"u":0.14},{"c":7,"h":0.1,"u":0.13},{"c":7,"h":0.15,"u":0.12},{"c":7,"h":0.2,"u":0.15},{"c":7,"h":0.25,"u":0.35},{"c":7,"h":0.3,"u":0.7},{"c":7,"h":0.35,"u":1.1},{"c":7,"h":0.4,"u":1.4},{"c":7,"h":0.45,"u":1.55},{"c":7,"h":0.5,"u":1.6},{"c":7,"h":0.55,"u":1.62},{"c":7,"h":0.6,"u":1.62},{"c":7,"h":0.7,"u":1.61},{"c":7,"h":0.8,"u":1.5},{"c":7,"h":0.85,"u":1.35},{"c":7,"h":0.9,"u":1.08},{"c":7,"h":0.95,"u":0.64},{"c":7,"h":0.98,"u":0.28},{"c":7,"h":1,"u":0},
{"c":8,"h":0,"u":0},{"c":8,"h":0.02,"u":0.05},{"c":8,"h":0.05,"u":0.06},{"c":8,"h":0.1,"u":-0.02},{"c":8,"h":0.15,"u":-0.05},{"c":8,"h":0.2,"u":0},{"c":8,"h":0.25,"u":0.15},{"c":8,"h":0.3,"u":0.45},{"c":8,"h":0.35,"u":0.9},{"c":8,"h":0.4,"u":1.35},{"c":8,"h":0.45,"u":1.6},{"c":8,"h":0.5,"u":1.72},{"c":8,"h":0.55,"u":1.75},{"c":8,"h":0.6,"u":1.76},{"c":8,"h":0.7,"u":1.75},{"c":8,"h":0.8,"u":1.62},{"c":8,"h":0.85,"u":1.45},{"c":8,"h":0.9,"u":1.15},{"c":8,"h":0.95,"u":0.68},{"c":8,"h":0.98,"u":0.3},{"c":8,"h":1,"u":0},
{"c":9,"h":0,"u":0},{"c":9,"h":0.02,"u":-0.05},{"c":9,"h":0.05,"u":-0.1},{"c":9,"h":0.1,"u":-0.1},{"c":9,"h":0.15,"u":-0.06},{"c":9,"h":0.2,"u":0.02},{"c":9,"h":0.25,"u":0.2},{"c":9,"h":0.3,"u":0.5},{"c":9,"h":0.35,"u":0.9},{"c":9,"h":0.4,"u":1.3},{"c":9,"h":0.45,"u":1.6},{"c":9,"h":0.5,"u":1.78},{"c":9,"h":0.55,"u":1.85},{"c":9,"h":0.6,"u":1.87},{"c":9,"h":0.7,"u":1.87},{"c":9,"h":0.8,"u":1.75},{"c":9,"h":0.85,"u":1.58},{"c":9,"h":0.9,"u":1.25},{"c":9,"h":0.95,"u":0.74},{"c":9,"h":0.98,"u":0.33},{"c":9,"h":1,"u":0},
{"c":10,"h":0,"u":0},{"c":10,"h":0.02,"u":-0.2},{"c":10,"h":0.05,"u":-0.4},{"c":10,"h":0.1,"u":-0.38},{"c":10,"h":0.15,"u":-0.28},{"c":10,"h":0.2,"u":-0.15},{"c":10,"h":0.25,"u":0.05},{"c":10,"h":0.3,"u":0.35},{"c":10,"h":0.35,"u":0.75},{"c":10,"h":0.4,"u":1.2},{"c":10,"h":0.45,"u":1.55},{"c":10,"h":0.5,"u":1.8},{"c":10,"h":0.55,"u":1.95},{"c":10,"h":0.6,"u":2.02},{"c":10,"h":0.7,"u":2.0},{"c":10,"h":0.8,"u":1.7},{"c":10,"h":0.85,"u":1.45},{"c":10,"h":0.9,"u":1.1},{"c":10,"h":0.95,"u":0.62},{"c":10,"h":0.98,"u":0.27},{"c":10,"h":1,"u":0},
{"c":11,"h":0,"u":0},{"c":11,"h":0.02,"u":-0.25},{"c":11,"h":0.05,"u":-0.44},{"c":11,"h":0.1,"u":-0.38},{"c":11,"h":0.15,"u":-0.3},{"c":11,"h":0.2,"u":-0.2},{"c":11,"h":0.25,"u":-0.05},{"c":11,"h":0.3,"u":0.25},{"c":11,"h":0.35,"u":0.7},{"c":11,"h":0.4,"u":1.15},{"c":11,"h":0.45,"u":1.55},{"c":11,"h":0.5,"u":1.85},{"c":11,"h":0.55,"u":2.05},{"c":11,"h":0.6,"u":2.15},{"c":11,"h":0.7,"u":2.17},{"c":11,"h":0.8,"u":1.85},{"c":11,"h":0.85,"u":1.55},{"c":11,"h":0.9,"u":1.12},{"c":11,"h":0.95,"u":0.62},{"c":11,"h":0.98,"u":0.27},{"c":11,"h":1,"u":0},
{"c":12,"h":0,"u":0},{"c":12,"h":0.02,"u":-0.2},{"c":12,"h":0.05,"u":-0.4},{"c":12,"h":0.1,"u":-0.48},{"c":12,"h":0.15,"u":-0.45},{"c":12,"h":0.2,"u":-0.35},{"c":12,"h":0.25,"u":-0.2},{"c":12,"h":0.3,"u":0.05},{"c":12,"h":0.35,"u":0.4},{"c":12,"h":0.4,"u":0.85},{"c":12,"h":0.45,"u":1.3},{"c":12,"h":0.5,"u":1.65},{"c":12,"h":0.55,"u":1.95},{"c":12,"h":0.6,"u":2.15},{"c":12,"h":0.7,"u":2.27},{"c":12,"h":0.8,"u":2.12},{"c":12,"h":0.85,"u":1.85},{"c":12,"h":0.9,"u":1.45},{"c":12,"h":0.95,"u":0.85},{"c":12,"h":0.98,"u":0.38},{"c":12,"h":1,"u":0},
{"c":13,"h":0,"u":0},{"c":13,"h":0.02,"u":-0.15},{"c":13,"h":0.05,"u":-0.3},{"c":13,"h":0.1,"u":-0.4},{"c":13,"h":0.15,"u":-0.38},{"c":13,"h":0.2,"u":-0.3},{"c":13,"h":0.25,"u":-0.15},{"c":13,"h":0.3,"u":0.05},{"c":13,"h":0.35,"u":0.35},{"c":13,"h":0.4,"u":0.75},{"c":13,"h":0.45,"u":1.15},{"c":13,"h":0.5,"u":1.5},{"c":13,"h":0.55,"u":1.8},{"c":13,"h":0.6,"u":2.0},{"c":13,"h":0.7,"u":2.18},{"c":13,"h":0.8,"u":2.15},{"c":13,"h":0.85,"u":1.95},{"c":13,"h":0.9,"u":1.6},{"c":13,"h":0.95,"u":0.95},{"c":13,"h":0.98,"u":0.42},{"c":13,"h":1,"u":0},
{"c":14,"h":0,"u":0},{"c":14,"h":0.02,"u":-0.12},{"c":14,"h":0.05,"u":-0.28},{"c":14,"h":0.1,"u":-0.3},{"c":14,"h":0.15,"u":-0.25},{"c":14,"h":0.2,"u":-0.15},{"c":14,"h":0.25,"u":0},{"c":14,"h":0.3,"u":0.25},{"c":14,"h":0.35,"u":0.6},{"c":14,"h":0.4,"u":1.0},{"c":14,"h":0.45,"u":1.38},{"c":14,"h":0.5,"u":1.68},{"c":14,"h":0.55,"u":1.88},{"c":14,"h":0.6,"u":2.0},{"c":14,"h":0.7,"u":2.07},{"c":14,"h":0.8,"u":2.0},{"c":14,"h":0.85,"u":1.8},{"c":14,"h":0.9,"u":1.45},{"c":14,"h":0.95,"u":0.85},{"c":14,"h":0.98,"u":0.38},{"c":14,"h":1,"u":0},
{"c":15,"h":0,"u":0},{"c":15,"h":0.02,"u":0.72},{"c":15,"h":0.05,"u":0.98},{"c":15,"h":0.1,"u":1.05},{"c":15,"h":0.15,"u":1.065},{"c":15,"h":0.2,"u":1.07},{"c":15,"h":0.25,"u":1.07},{"c":15,"h":0.3,"u":1.07},{"c":15,"h":0.35,"u":1.07},{"c":15,"h":0.4,"u":1.07},{"c":15,"h":0.45,"u":1.07},{"c":15,"h":0.5,"u":1.07},{"c":15,"h":0.55,"u":1.07},{"c":15,"h":0.6,"u":1.07},{"c":15,"h":0.7,"u":1.07},{"c":15,"h":0.8,"u":1.065},{"c":15,"h":0.85,"u":1.06},{"c":15,"h":0.9,"u":1.035},{"c":15,"h":0.95,"u":0.92},{"c":15,"h":0.98,"u":0.55},{"c":15,"h":1,"u":0},
{"c":16,"h":0,"u":0},{"c":16,"h":0.02,"u":0.2},{"c":16,"h":0.05,"u":0.45},{"c":16,"h":0.1,"u":0.72},{"c":16,"h":0.15,"u":0.91},{"c":16,"h":0.2,"u":1.04},{"c":16,"h":0.25,"u":1.13},{"c":16,"h":0.3,"u":1.19},{"c":16,"h":0.35,"u":1.22},{"c":16,"h":0.4,"u":1.24},{"c":16,"h":0.45,"u":1.25},{"c":16,"h":0.5,"u":1.26},{"c":16,"h":0.55,"u":1.26},{"c":16,"h":0.6,"u":1.26},{"c":16,"h":0.7,"u":1.25},{"c":16,"h":0.8,"u":1.12},{"c":16,"h":0.85,"u":0.98},{"c":16,"h":0.9,"u":0.77},{"c":16,"h":0.95,"u":0.43},{"c":16,"h":0.98,"u":0.18},{"c":16,"h":1,"u":0},
{"c":17,"h":0,"u":0},{"c":17,"h":0.02,"u":-0.1},{"c":17,"h":0.05,"u":-0.2},{"c":17,"h":0.1,"u":-0.22},{"c":17,"h":0.15,"u":-0.15},{"c":17,"h":0.2,"u":-0.05},{"c":17,"h":0.25,"u":0.12},{"c":17,"h":0.3,"u":0.42},{"c":17,"h":0.35,"u":0.83},{"c":17,"h":0.4,"u":1.25},{"c":17,"h":0.45,"u":1.58},{"c":17,"h":0.5,"u":1.8},{"c":17,"h":0.55,"u":1.9},{"c":17,"h":0.6,"u":1.94},{"c":17,"h":0.7,"u":1.95},{"c":17,"h":0.8,"u":1.82},{"c":17,"h":0.85,"u":1.62},{"c":17,"h":0.9,"u":1.28},{"c":17,"h":0.95,"u":0.75},{"c":17,"h":0.98,"u":0.33},{"c":17,"h":1,"u":0},
{"c":18,"h":0,"u":0},{"c":18,"h":0.02,"u":-0.18},{"c":18,"h":0.05,"u":-0.35},{"c":18,"h":0.1,"u":-0.42},{"c":18,"h":0.15,"u":-0.4},{"c":18,"h":0.2,"u":-0.32},{"c":18,"h":0.25,"u":-0.18},{"c":18,"h":0.3,"u":0.03},{"c":18,"h":0.35,"u":0.33},{"c":18,"h":0.4,"u":0.72},{"c":18,"h":0.45,"u":1.1},{"c":18,"h":0.5,"u":1.45},{"c":18,"h":0.55,"u":1.72},{"c":18,"h":0.6,"u":1.92},{"c":18,"h":0.7,"u":2.1},{"c":18,"h":0.8,"u":2.1},{"c":18,"h":0.85,"u":1.92},{"c":18,"h":0.9,"u":1.58},{"c":18,"h":0.95,"u":0.95},{"c":18,"h":0.98,"u":0.42},{"c":18,"h":1,"u":0},
{"c":19,"h":0,"u":0},{"c":19,"h":0.02,"u":-0.22},{"c":19,"h":0.05,"u":-0.4},{"c":19,"h":0.1,"u":-0.35},{"c":19,"h":0.15,"u":-0.25},{"c":19,"h":0.2,"u":-0.12},{"c":19,"h":0.25,"u":0.1},{"c":19,"h":0.3,"u":0.42},{"c":19,"h":0.35,"u":0.85},{"c":19,"h":0.4,"u":1.3},{"c":19,"h":0.45,"u":1.62},{"c":19,"h":0.5,"u":1.85},{"c":19,"h":0.55,"u":1.98},{"c":19,"h":0.6,"u":2.05},{"c":19,"h":0.7,"u":2.02},{"c":19,"h":0.8,"u":1.72},{"c":19,"h":0.85,"u":1.42},{"c":19,"h":0.9,"u":1.05},{"c":19,"h":0.95,"u":0.58},{"c":19,"h":0.98,"u":0.25},{"c":19,"h":1,"u":0}
],
"d4":[
{"c":1,"h":0,"u":0},{"c":1,"h":0.02,"u":0.85},{"c":1,"h":0.05,"u":1.03},{"c":1,"h":0.1,"u":1.04},{"c":1,"h":0.15,"u":1.05},{"c":1,"h":0.2,"u":1.05},{"c":1,"h":0.25,"u":1.05},{"c":1,"h":0.3,"u":1.05},{"c":1,"h":0.35,"u":1.05},{"c":1,"h":0.4,"u":1.05},{"c":1,"h":0.45,"u":1.05},{"c":1,"h":0.5,"u":1.05},{"c":1,"h":0.55,"u":1.05},{"c":1,"h":0.6,"u":1.05},{"c":1,"h":0.7,"u":1.05},{"c":1,"h":0.8,"u":1.05},{"c":1,"h":0.85,"u":1.05},{"c":1,"h":0.9,"u":1.04},{"c":1,"h":0.95,"u":1.0},{"c":1,"h":0.98,"u":0.65},{"c":1,"h":1,"u":0},
{"c":2,"h":0,"u":0},{"c":2,"h":0.02,"u":0.55},{"c":2,"h":0.05,"u":0.95},{"c":2,"h":0.1,"u":1.06},{"c":2,"h":0.15,"u":1.08},{"c":2,"h":0.2,"u":1.09},{"c":2,"h":0.25,"u":1.1},{"c":2,"h":0.3,"u":1.1},{"c":2,"h":0.35,"u":1.1},{"c":2,"h":0.4,"u":1.1},{"c":2,"h":0.45,"u":1.1},{"c":2,"h":0.5,"u":1.1},{"c":2,"h":0.55,"u":1.1},{"c":2,"h":0.6,"u":1.1},{"c":2,"h":0.7,"u":1.1},{"c":2,"h":0.8,"u":1.09},{"c":2,"h":0.85,"u":1.07},{"c":2,"h":0.9,"u":1.02},{"c":2,"h":0.95,"u":0.82},{"c":2,"h":0.98,"u":0.42},{"c":2,"h":1,"u":0},
{"c":3,"h":0,"u":0},{"c":3,"h":0.02,"u":0.4},{"c":3,"h":0.05,"u":0.78},{"c":3,"h":0.1,"u":0.98},{"c":3,"h":0.15,"u":1.08},{"c":3,"h":0.2,"u":1.13},{"c":3,"h":0.25,"u":1.16},{"c":3,"h":0.3,"u":1.18},{"c":3,"h":0.35,"u":1.19},{"c":3,"h":0.4,"u":1.19},{"c":3,"h":0.45,"u":1.19},{"c":3,"h":0.5,"u":1.19},{"c":3,"h":0.55,"u":1.19},{"c":3,"h":0.6,"u":1.19},{"c":3,"h":0.7,"u":1.18},{"c":3,"h":0.8,"u":1.12},{"c":3,"h":0.85,"u":1.04},{"c":3,"h":0.9,"u":0.88},{"c":3,"h":0.95,"u":0.52},{"c":3,"h":0.98,"u":0.23},{"c":3,"h":1,"u":0},
{"c":4,"h":0,"u":0},{"c":4,"h":0.02,"u":0.26},{"c":4,"h":0.05,"u":0.56},{"c":4,"h":0.1,"u":0.85},{"c":4,"h":0.15,"u":1.02},{"c":4,"h":0.2,"u":1.12},{"c":4,"h":0.25,"u":1.18},{"c":4,"h":0.3,"u":1.22},{"c":4,"h":0.35,"u":1.24},{"c":4,"h":0.4,"u":1.25},{"c":4,"h":0.45,"u":1.25},{"c":4,"h":0.5,"u":1.25},{"c":4,"h":0.55,"u":1.25},{"c":4,"h":0.6,"u":1.25},{"c":4,"h":0.7,"u":1.23},{"c":4,"h":0.8,"u":1.1},{"c":4,"h":0.85,"u":0.96},{"c":4,"h":0.9,"u":0.75},{"c":4,"h":0.95,"u":0.42},{"c":4,"h":0.98,"u":0.18},{"c":4,"h":1,"u":0},
{"c":5,"h":0,"u":0},{"c":5,"h":0.02,"u":0.14},{"c":5,"h":0.05,"u":0.32},{"c":5,"h":0.1,"u":0.58},{"c":5,"h":0.15,"u":0.78},{"c":5,"h":0.2,"u":0.95},{"c":5,"h":0.25,"u":1.08},{"c":5,"h":0.3,"u":1.17},{"c":5,"h":0.35,"u":1.23},{"c":5,"h":0.4,"u":1.26},{"c":5,"h":0.45,"u":1.28},{"c":5,"h":0.5,"u":1.29},{"c":5,"h":0.55,"u":1.29},{"c":5,"h":0.6,"u":1.29},{"c":5,"h":0.7,"u":1.28},{"c":5,"h":0.8,"u":1.15},{"c":5,"h":0.85,"u":1.0},{"c":5,"h":0.9,"u":0.78},{"c":5,"h":0.95,"u":0.43},{"c":5,"h":0.98,"u":0.18},{"c":5,"h":1,"u":0},
{"c":6,"h":0,"u":0},{"c":6,"h":0.02,"u":0.06},{"c":6,"h":0.05,"u":0.1},{"c":6,"h":0.1,"u":0.18},{"c":6,"h":0.15,"u":0.32},{"c":6,"h":0.2,"u":0.55},{"c":6,"h":0.25,"u":0.82},{"c":6,"h":0.3,"u":1.05},{"c":6,"h":0.35,"u":1.22},{"c":6,"h":0.4,"u":1.32},{"c":6,"h":0.45,"u":1.38},{"c":6,"h":0.5,"u":1.41},{"c":6,"h":0.55,"u":1.42},{"c":6,"h":0.6,"u":1.42},{"c":6,"h":0.7,"u":1.43},{"c":6,"h":0.8,"u":1.35},{"c":6,"h":0.85,"u":1.2},{"c":6,"h":0.9,"u":0.97},{"c":6,"h":0.95,"u":0.56},{"c":6,"h":0.98,"u":0.25},{"c":6,"h":1,"u":0},
{"c":7,"h":0,"u":0},{"c":7,"h":0.02,"u":0.12},{"c":7,"h":0.05,"u":0.18},{"c":7,"h":0.1,"u":0.15},{"c":7,"h":0.15,"u":0.12},{"c":7,"h":0.2,"u":0.2},{"c":7,"h":0.25,"u":0.45},{"c":7,"h":0.3,"u":0.85},{"c":7,"h":0.35,"u":1.25},{"c":7,"h":0.4,"u":1.52},{"c":7,"h":0.45,"u":1.62},{"c":7,"h":0.5,"u":1.66},{"c":7,"h":0.55,"u":1.67},{"c":7,"h":0.6,"u":1.68},{"c":7,"h":0.7,"u":1.68},{"c":7,"h":0.8,"u":1.55},{"c":7,"h":0.85,"u":1.38},{"c":7,"h":0.9,"u":1.1},{"c":7,"h":0.95,"u":0.65},{"c":7,"h":0.98,"u":0.28},{"c":7,"h":1,"u":0},
{"c":8,"h":0,"u":0},{"c":8,"h":0.02,"u":0.08},{"c":8,"h":0.05,"u":0.1},{"c":8,"h":0.1,"u":0.05},{"c":8,"h":0.15,"u":0.05},{"c":8,"h":0.2,"u":0.1},{"c":8,"h":0.25,"u":0.25},{"c":8,"h":0.3,"u":0.55},{"c":8,"h":0.35,"u":0.95},{"c":8,"h":0.4,"u":1.35},{"c":8,"h":0.45,"u":1.65},{"c":8,"h":0.5,"u":1.8},{"c":8,"h":0.55,"u":1.86},{"c":8,"h":0.6,"u":1.87},{"c":8,"h":0.7,"u":1.87},{"c":8,"h":0.8,"u":1.78},{"c":8,"h":0.85,"u":1.6},{"c":8,"h":0.9,"u":1.28},{"c":8,"h":0.95,"u":0.76},{"c":8,"h":0.98,"u":0.33},{"c":8,"h":1,"u":0},
{"c":9,"h":0,"u":0},{"c":9,"h":0.02,"u":-0.03},{"c":9,"h":0.05,"u":-0.06},{"c":9,"h":0.1,"u":-0.05},{"c":9,"h":0.15,"u":-0.08},{"c":9,"h":0.2,"u":-0.1},{"c":9,"h":0.25,"u":0},{"c":9,"h":0.3,"u":0.3},{"c":9,"h":0.35,"u":0.75},{"c":9,"h":0.4,"u":1.2},{"c":9,"h":0.45,"u":1.58},{"c":9,"h":0.5,"u":1.82},{"c":9,"h":0.55,"u":1.95},{"c":9,"h":0.6,"u":2.01},{"c":9,"h":0.7,"u":2.03},{"c":9,"h":0.8,"u":1.9},{"c":9,"h":0.85,"u":1.7},{"c":9,"h":0.9,"u":1.35},{"c":9,"h":0.95,"u":0.8},{"c":9,"h":0.98,"u":0.35},{"c":9,"h":1,"u":0},
{"c":10,"h":0,"u":0},{"c":10,"h":0.02,"u":-0.15},{"c":10,"h":0.05,"u":-0.25},{"c":10,"h":0.1,"u":-0.22},{"c":10,"h":0.15,"u":-0.22},{"c":10,"h":0.2,"u":-0.15},{"c":10,"h":0.25,"u":0},{"c":10,"h":0.3,"u":0.3},{"c":10,"h":0.35,"u":0.75},{"c":10,"h":0.4,"u":1.2},{"c":10,"h":0.45,"u":1.55},{"c":10,"h":0.5,"u":1.82},{"c":10,"h":0.55,"u":1.98},{"c":10,"h":0.6,"u":2.05},{"c":10,"h":0.7,"u":2.08},{"c":10,"h":0.8,"u":1.95},{"c":10,"h":0.85,"u":1.75},{"c":10,"h":0.9,"u":1.4},{"c":10,"h":0.95,"u":0.82},{"c":10,"h":0.98,"u":0.36},{"c":10,"h":1,"u":0},
{"c":11,"h":0,"u":0},{"c":11,"h":0.02,"u":-0.3},{"c":11,"h":0.05,"u":-0.55},{"c":11,"h":0.1,"u":-0.48},{"c":11,"h":0.15,"u":-0.35},{"c":11,"h":0.2,"u":-0.25},{"c":11,"h":0.25,"u":-0.05},{"c":11,"h":0.3,"u":0.3},{"c":11,"h":0.35,"u":0.85},{"c":11,"h":0.4,"u":1.35},{"c":11,"h":0.45,"u":1.7},{"c":11,"h":0.5,"u":1.9},{"c":11,"h":0.55,"u":2.02},{"c":11,"h":0.6,"u":2.1},{"c":11,"h":0.7,"u":2.15},{"c":11,"h":0.8,"u":1.8},{"c":11,"h":0.85,"u":1.45},{"c":11,"h":0.9,"u":1.0},{"c":11,"h":0.95,"u":0.52},{"c":11,"h":0.98,"u":0.22},{"c":11,"h":1,"u":0},
{"c":12,"h":0,"u":0},{"c":12,"h":0.02,"u":-0.3},{"c":12,"h":0.05,"u":-0.58},{"c":12,"h":0.1,"u":-0.5},{"c":12,"h":0.15,"u":-0.4},{"c":12,"h":0.2,"u":-0.3},{"c":12,"h":0.25,"u":-0.15},{"c":12,"h":0.3,"u":0.1},{"c":12,"h":0.35,"u":0.5},{"c":12,"h":0.4,"u":0.95},{"c":12,"h":0.45,"u":1.35},{"c":12,"h":0.5,"u":1.7},{"c":12,"h":0.55,"u":1.95},{"c":12,"h":0.6,"u":2.15},{"c":12,"h":0.7,"u":2.3},{"c":12,"h":0.8,"u":2.28},{"c":12,"h":0.85,"u":2.05},{"c":12,"h":0.9,"u":1.65},{"c":12,"h":0.95,"u":0.95},{"c":12,"h":0.98,"u":0.42},{"c":12,"h":1,"u":0},
{"c":13,"h":0,"u":0},{"c":13,"h":0.02,"u":-0.35},{"c":13,"h":0.05,"u":-0.62},{"c":13,"h":0.1,"u":-0.55},{"c":13,"h":0.15,"u":-0.45},{"c":13,"h":0.2,"u":-0.35},{"c":13,"h":0.25,"u":-0.2},{"c":13,"h":0.3,"u":0.05},{"c":13,"h":0.35,"u":0.4},{"c":13,"h":0.4,"u":0.85},{"c":13,"h":0.45,"u":1.3},{"c":13,"h":0.5,"u":1.65},{"c":13,"h":0.55,"u":1.9},{"c":13,"h":0.6,"u":2.1},{"c":13,"h":0.7,"u":2.3},{"c":13,"h":0.8,"u":2.3},{"c":13,"h":0.85,"u":2.1},{"c":13,"h":0.9,"u":1.7},{"c":13,"h":0.95,"u":1.0},{"c":13,"h":0.98,"u":0.45},{"c":13,"h":1,"u":0},
{"c":14,"h":0,"u":0},{"c":14,"h":0.02,"u":-0.3},{"c":14,"h":0.05,"u":-0.58},{"c":14,"h":0.1,"u":-0.55},{"c":14,"h":0.15,"u":-0.45},{"c":14,"h":0.2,"u":-0.3},{"c":14,"h":0.25,"u":-0.1},{"c":14,"h":0.3,"u":0.2},{"c":14,"h":0.35,"u":0.6},{"c":14,"h":0.4,"u":1.05},{"c":14,"h":0.45,"u":1.45},{"c":14,"h":0.5,"u":1.75},{"c":14,"h":0.55,"u":1.95},{"c":14,"h":0.6,"u":2.1},{"c":14,"h":0.7,"u":2.2},{"c":14,"h":0.8,"u":2.1},{"c":14,"h":0.85,"u":1.85},{"c":14,"h":0.9,"u":1.45},{"c":14,"h":0.95,"u":0.85},{"c":14,"h":0.98,"u":0.38},{"c":14,"h":1,"u":0},
{"c":15,"h":0,"u":0},{"c":15,"h":0.02,"u":0.72},{"c":15,"h":0.05,"u":0.98},{"c":15,"h":0.1,"u":1.05},{"c":15,"h":0.15,"u":1.065},{"c":15,"h":0.2,"u":1.07},{"c":15,"h":0.25,"u":1.07},{"c":15,"h":0.3,"u":1.07},{"c":15,"h":0.35,"u":1.07},{"c":15,"h":0.4,"u":1.07},{"c":15,"h":0.45,"u":1.07},{"c":15,"h":0.5,"u":1.07},{"c":15,"h":0.55,"u":1.07},{"c":15,"h":0.6,"u":1.07},{"c":15,"h":0.7,"u":1.07},{"c":15,"h":0.8,"u":1.065},{"c":15,"h":0.85,"u":1.06},{"c":15,"h":0.9,"u":1.035},{"c":15,"h":0.95,"u":0.92},{"c":15,"h":0.98,"u":0.55},{"c":15,"h":1,"u":0},
{"c":16,"h":0,"u":0},{"c":16,"h":0.02,"u":0.2},{"c":16,"h":0.05,"u":0.45},{"c":16,"h":0.1,"u":0.72},{"c":16,"h":0.15,"u":0.9},{"c":16,"h":0.2,"u":1.04},{"c":16,"h":0.25,"u":1.13},{"c":16,"h":0.3,"u":1.19},{"c":16,"h":0.35,"u":1.22},{"c":16,"h":0.4,"u":1.24},{"c":16,"h":0.45,"u":1.25},{"c":16,"h":0.5,"u":1.26},{"c":16,"h":0.55,"u":1.26},{"c":16,"h":0.6,"u":1.26},{"c":16,"h":0.7,"u":1.25},{"c":16,"h":0.8,"u":1.12},{"c":16,"h":0.85,"u":0.98},{"c":16,"h":0.9,"u":0.77},{"c":16,"h":0.95,"u":0.43},{"c":16,"h":0.98,"u":0.18},{"c":16,"h":1,"u":0},
{"c":17,"h":0,"u":0},{"c":17,"h":0.02,"u":0.05},{"c":17,"h":0.05,"u":0.08},{"c":17,"h":0.1,"u":0.08},{"c":17,"h":0.15,"u":0.06},{"c":17,"h":0.2,"u":0.08},{"c":17,"h":0.25,"u":0.22},{"c":17,"h":0.3,"u":0.5},{"c":17,"h":0.35,"u":0.9},{"c":17,"h":0.4,"u":1.32},{"c":17,"h":0.45,"u":1.65},{"c":17,"h":0.5,"u":1.85},{"c":17,"h":0.55,"u":1.96},{"c":17,"h":0.6,"u":2.0},{"c":17,"h":0.7,"u":2.02},{"c":17,"h":0.8,"u":1.92},{"c":17,"h":0.85,"u":1.72},{"c":17,"h":0.9,"u":1.38},{"c":17,"h":0.95,"u":0.82},{"c":17,"h":0.98,"u":0.36},{"c":17,"h":1,"u":0},
{"c":18,"h":0,"u":0},{"c":18,"h":0.02,"u":-0.25},{"c":18,"h":0.05,"u":-0.48},{"c":18,"h":0.1,"u":-0.45},{"c":18,"h":0.15,"u":-0.38},{"c":18,"h":0.2,"u":-0.28},{"c":18,"h":0.25,"u":-0.12},{"c":18,"h":0.3,"u":0.15},{"c":18,"h":0.35,"u":0.55},{"c":18,"h":0.4,"u":1.0},{"c":18,"h":0.45,"u":1.4},{"c":18,"h":0.5,"u":1.72},{"c":18,"h":0.55,"u":1.95},{"c":18,"h":0.6,"u":2.12},{"c":18,"h":0.7,"u":2.25},{"c":18,"h":0.8,"u":2.18},{"c":18,"h":0.85,"u":1.95},{"c":18,"h":0.9,"u":1.55},{"c":18,"h":0.95,"u":0.9},{"c":18,"h":0.98,"u":0.4},{"c":18,"h":1,"u":0},
{"c":19,"h":0,"u":0},{"c":19,"h":0.02,"u":-0.2},{"c":19,"h":0.05,"u":-0.4},{"c":19,"h":0.1,"u":-0.38},{"c":19,"h":0.15,"u":-0.3},{"c":19,"h":0.2,"u":-0.18},{"c":19,"h":0.25,"u":0.02},{"c":19,"h":0.3,"u":0.35},{"c":19,"h":0.35,"u":0.8},{"c":19,"h":0.4,"u":1.28},{"c":19,"h":0.45,"u":1.65},{"c":19,"h":0.5,"u":1.9},{"c":19,"h":0.55,"u":2.05},{"c":19,"h":0.6,"u":2.15},{"c":19,"h":0.7,"u":2.15},{"c":19,"h":0.8,"u":1.85},{"c":19,"h":0.85,"u":1.5},{"c":19,"h":0.9,"u":1.05},{"c":19,"h":0.95,"u":0.55},{"c":19,"h":0.98,"u":0.23},{"c":19,"h":1,"u":0}
]
},
"columns":2,
"spacing":{"row":51,"column":62},
"bounds":"flush",
"concat":[
{"width":417,"height":288,"resolve":{"axis":{"x":"independent","y":"independent"}},"layer":[
 {"data":{"name":"d1"},"mark":{"type":"line","strokeWidth":1.1,"interpolate":"monotone"},"encoding":{
  "x":{"field":"h","type":"quantitative","scale":{"domain":[0,1],"nice":false,"zero":false},"axis":{"orient":"bottom","values":[0,0.2,0.4,0.6,0.8,1],"format":".1f","tickSize":-6,"labelPadding":13,"title":"H","titleFontSize":46,"titleY":39,"titleBaseline":"alphabetic"}},
  "y":{"field":"u","type":"quantitative","scale":{"domain":[0,1.5],"nice":false,"zero":false},"axis":{"orient":"left","values":[0,0.3,0.6,0.9,1.2,1.5],"format":".1f","tickSize":-6,"labelPadding":15,"title":"U","titleFontSize":28,"titleAngle":0,"titleX":-39,"titleY":141,"titleAlign":"center","titleBaseline":"middle"}},
  "color":{"field":"c","type":"nominal","legend":null,"scale":{"domain":[1,2,3,4,5,6,7,8,9,10,11,12,13,14,15,16,17,18,19,20],"range":["#c0392b","#3cb043","#2e4bc6","#c03cc0","#3fc0dc","#d8c83a","#6a3d9a","#4f8a3f","#e04c9a","#222222","#8b1a4a","#2a9d9d","#3a3a3a","#40d0e0","#a0522d","#1f6f8b","#9b59b6","#555555","#b03060","#e8d860"]}}}},
 {"data":{"values":[{"u":1}]},"mark":{"type":"rule","color":"#444","strokeWidth":1.2},"encoding":{
  "y":{"field":"u","type":"quantitative","scale":{"domain":[0,1.5],"nice":false,"zero":false},"axis":{"orient":"right","values":[0,0.3,0.6,0.9,1.2,1.5],"tickSize":-6,"labels":false,"title":null}}}},
 {"data":{"values":[{"h":0,"u":0}]},"mark":{"type":"point","opacity":0},"encoding":{
  "x":{"field":"h","type":"quantitative","scale":{"domain":[0,1],"nice":false,"zero":false},"axis":{"orient":"top","values":[0,0.2,0.4,0.6,0.8,1],"format":".1f","tickSize":-6,"labelPadding":15,"title":null}},
  "y":{"field":"u","type":"quantitative","scale":{"domain":[0,1.5],"nice":false,"zero":false},"axis":{"orient":"left","values":[0.15,0.45,0.75,1.05,1.35],"tickSize":-3,"labels":false,"title":null}}}},
 {"data":{"values":[{"h":0,"u":0}]},"mark":{"type":"point","opacity":0},"encoding":{
  "x":{"field":"h","type":"quantitative","scale":{"domain":[0,1],"nice":false,"zero":false},"axis":{"orient":"bottom","values":[0.1,0.3,0.5,0.7,0.9],"tickSize":-3,"labels":false,"title":null}},
  "y":{"field":"u","type":"quantitative","scale":{"domain":[0,1.5],"nice":false,"zero":false},"axis":{"orient":"right","values":[0.15,0.45,0.75,1.05,1.35],"tickSize":-3,"labels":false,"title":null}}}},
 {"data":{"values":[{"h":0}]},"mark":{"type":"point","opacity":0},"encoding":{
  "x":{"field":"h","type":"quantitative","scale":{"domain":[0,1],"nice":false,"zero":false},"axis":{"orient":"top","values":[0.1,0.3,0.5,0.7,0.9],"tickSize":-3,"labels":false,"title":null}}}},
 {"data":{"values":[{}]},"mark":{"type":"text","text":["Re = 500","Pr = 7"],"lineHeight":37,"align":"left","baseline":"alphabetic","font":"Liberation Sans","fontWeight":"bold","fontSize":34,"color":"#111"},"encoding":{
  "x":{"datum":0.367,"type":"quantitative","scale":{"domain":[0,1],"nice":false,"zero":false},"axis":null},
  "y":{"datum":0.681,"type":"quantitative","scale":{"domain":[0,1.5],"nice":false,"zero":false},"axis":null}}},
 {"data":{"values":[{}]},"mark":{"type":"text","text":"Distribución inicial","align":"center","baseline":"alphabetic","font":"Liberation Sans","fontWeight":"bold","fontSize":34,"color":"#111"},"encoding":{
  "x":{"datum":0.488,"type":"quantitative","scale":{"domain":[0,1],"nice":false,"zero":false},"axis":null},
  "y":{"datum":0.16,"type":"quantitative","scale":{"domain":[0,1.5],"nice":false,"zero":false},"axis":null}}}
]},
{"width":418,"height":290,"resolve":{"axis":{"x":"independent","y":"independent"}},"layer":[
 {"data":{"name":"d2"},"mark":{"type":"line","strokeWidth":1.1,"interpolate":"monotone"},"encoding":{
  "x":{"field":"h","type":"quantitative","scale":{"domain":[0,1],"nice":false,"zero":false},"axis":{"orient":"bottom","values":[0,0.2,0.4,0.6,0.8,1],"format":".1f","tickSize":-6,"labelPadding":13,"title":"H","titleFontSize":46,"titleY":39,"titleBaseline":"alphabetic"}},
  "y":{"field":"u","type":"quantitative","scale":{"domain":[-0.5,2.3],"nice":false,"zero":false},"axis":{"orient":"left","values":[-0.4,0,0.4,0.8,1.2,1.6,2.0],"format":".1f","tickSize":-6,"labelPadding":15,"title":"U","titleFontSize":28,"titleAngle":0,"titleX":-38,"titleY":135,"titleAlign":"center","titleBaseline":"middle"}},
  "color":{"field":"c","type":"nominal","legend":null,"scale":{"domain":[1,2,3,4,5,6,7,8,9,10,11,12,13,14,15,16,17,18,19,20],"range":["#c0392b","#3cb043","#2e4bc6","#c03cc0","#3fc0dc","#d8c83a","#6a3d9a","#4f8a3f","#e04c9a","#222222","#8b1a4a","#2a9d9d","#3a3a3a","#40d0e0","#a0522d","#1f6f8b","#9b59b6","#555555","#b03060","#e8d860"]}}}},
 {"data":{"values":[{"u":1}]},"mark":{"type":"rule","color":"#444","strokeWidth":1.2},"encoding":{
  "y":{"field":"u","type":"quantitative","scale":{"domain":[-0.5,2.3],"nice":false,"zero":false},"axis":{"orient":"right","values":[-0.4,0,0.4,0.8,1.2,1.6,2.0],"tickSize":-6,"labels":false,"title":null}}}},
 {"data":{"values":[{"h":0,"u":0}]},"mark":{"type":"point","opacity":0},"encoding":{
  "x":{"field":"h","type":"quantitative","scale":{"domain":[0,1],"nice":false,"zero":false},"axis":{"orient":"top","values":[0,0.2,0.4,0.6,0.8,1],"format":".1f","tickSize":-6,"labelPadding":15,"title":null}},
  "y":{"field":"u","type":"quantitative","scale":{"domain":[-0.5,2.3],"nice":false,"zero":false},"axis":{"orient":"left","values":[-0.2,0.2,0.6,1.0,1.4,1.8,2.2],"tickSize":-3,"labels":false,"title":null}}}},
 {"data":{"values":[{"h":0,"u":0}]},"mark":{"type":"point","opacity":0},"encoding":{
  "x":{"field":"h","type":"quantitative","scale":{"domain":[0,1],"nice":false,"zero":false},"axis":{"orient":"bottom","values":[0.1,0.3,0.5,0.7,0.9],"tickSize":-3,"labels":false,"title":null}},
  "y":{"field":"u","type":"quantitative","scale":{"domain":[-0.5,2.3],"nice":false,"zero":false},"axis":{"orient":"right","values":[-0.2,0.2,0.6,1.0,1.4,1.8,2.2],"tickSize":-3,"labels":false,"title":null}}}},
 {"data":{"values":[{"h":0}]},"mark":{"type":"point","opacity":0},"encoding":{
  "x":{"field":"h","type":"quantitative","scale":{"domain":[0,1],"nice":false,"zero":false},"axis":{"orient":"top","values":[0.1,0.3,0.5,0.7,0.9],"tickSize":-3,"labels":false,"title":null}}}},
 {"data":{"values":[{}]},"mark":{"type":"text","text":["Re = 500","Pr = 7","Ri = 1, (Gr = 2.5 x 10\u2075)"],"lineHeight":25,"align":"left","baseline":"alphabetic","font":"Liberation Sans","fontWeight":"bold","fontSize":21,"color":"#111"},"encoding":{
  "x":{"datum":0.421,"type":"quantitative","scale":{"domain":[0,1],"nice":false,"zero":false},"axis":null},
  "y":{"datum":0.234,"type":"quantitative","scale":{"domain":[-0.5,2.3],"nice":false,"zero":false},"axis":null}}}
]},
{"width":417,"height":306,"resolve":{"axis":{"x":"independent","y":"independent"}},"layer":[
 {"data":{"name":"d3"},"mark":{"type":"line","strokeWidth":1.1,"interpolate":"monotone"},"encoding":{
  "x":{"field":"h","type":"quantitative","scale":{"domain":[0,1],"nice":false,"zero":false},"axis":{"orient":"bottom","values":[0,0.2,0.4,0.6,0.8,1],"format":".1f","tickSize":-6,"labelPadding":13,"title":"H","titleFontSize":46,"titleY":40,"titleBaseline":"alphabetic"}},
  "y":{"field":"u","type":"quantitative","scale":{"domain":[-0.6,2.5],"nice":false,"zero":false},"axis":{"orient":"left","values":[-0.4,0,0.4,0.8,1.2,1.6,2.0,2.4],"format":".1f","tickSize":-6,"labelPadding":15,"title":"U","titleFontSize":28,"titleAngle":0,"titleX":-41,"titleY":149,"titleAlign":"center","titleBaseline":"middle"}},
  "color":{"field":"c","type":"nominal","legend":null,"scale":{"domain":[1,2,3,4,5,6,7,8,9,10,11,12,13,14,15,16,17,18,19,20],"range":["#c0392b","#3cb043","#2e4bc6","#c03cc0","#3fc0dc","#d8c83a","#6a3d9a","#4f8a3f","#e04c9a","#222222","#8b1a4a","#2a9d9d","#3a3a3a","#40d0e0","#a0522d","#1f6f8b","#9b59b6","#555555","#b03060","#e8d860"]}}}},
 {"data":{"values":[{"u":1}]},"mark":{"type":"rule","color":"#444","strokeWidth":1.2},"encoding":{
  "y":{"field":"u","type":"quantitative","scale":{"domain":[-0.6,2.5],"nice":false,"zero":false},"axis":{"orient":"right","values":[-0.4,0,0.4,0.8,1.2,1.6,2.0,2.4],"tickSize":-6,"labels":false,"title":null}}}},
 {"data":{"values":[{"h":0,"u":0}]},"mark":{"type":"point","opacity":0},"encoding":{
  "x":{"field":"h","type":"quantitative","scale":{"domain":[0,1],"nice":false,"zero":false},"axis":{"orient":"top","values":[0,0.2,0.4,0.6,0.8,1],"tickSize":-6,"labels":false,"title":null}},
  "y":{"field":"u","type":"quantitative","scale":{"domain":[-0.6,2.5],"nice":false,"zero":false},"axis":{"orient":"left","values":[-0.2,0.2,0.6,1.0,1.4,1.8,2.2],"tickSize":-3,"labels":false,"title":null}}}},
 {"data":{"values":[{"h":0,"u":0}]},"mark":{"type":"point","opacity":0},"encoding":{
  "x":{"field":"h","type":"quantitative","scale":{"domain":[0,1],"nice":false,"zero":false},"axis":{"orient":"bottom","values":[0.1,0.3,0.5,0.7,0.9],"tickSize":-3,"labels":false,"title":null}},
  "y":{"field":"u","type":"quantitative","scale":{"domain":[-0.6,2.5],"nice":false,"zero":false},"axis":{"orient":"right","values":[-0.2,0.2,0.6,1.0,1.4,1.8,2.2],"tickSize":-3,"labels":false,"title":null}}}},
 {"data":{"values":[{"h":0}]},"mark":{"type":"point","opacity":0},"encoding":{
  "x":{"field":"h","type":"quantitative","scale":{"domain":[0,1],"nice":false,"zero":false},"axis":{"orient":"top","values":[0.1,0.3,0.5,0.7,0.9],"tickSize":-3,"labels":false,"title":null}}}},
 {"data":{"values":[{}]},"mark":{"type":"text","text":["Re = 500","Pr = 7","Ri = 1.2, (Gr = 3 x 10\u2075 )"],"lineHeight":28,"align":"left","baseline":"alphabetic","font":"Liberation Sans","fontWeight":"bold","fontSize":21,"color":"#111"},"encoding":{
  "x":{"datum":0.408,"type":"quantitative","scale":{"domain":[0,1],"nice":false,"zero":false},"axis":null},
  "y":{"datum":0.221,"type":"quantitative","scale":{"domain":[-0.6,2.5],"nice":false,"zero":false},"axis":null}}}
]},
{"width":413,"height":303,"resolve":{"axis":{"x":"independent","y":"independent"}},"layer":[
 {"data":{"name":"d4"},"mark":{"type":"line","strokeWidth":1.1,"interpolate":"monotone"},"encoding":{
  "x":{"field":"h","type":"quantitative","scale":{"domain":[0,1],"nice":false,"zero":false},"axis":{"orient":"bottom","values":[0,0.2,0.4,0.6,0.8,1],"format":".1f","tickSize":-6,"labelPadding":13,"title":"H","titleFontSize":46,"titleY":40,"titleBaseline":"alphabetic"}},
  "y":{"field":"u","type":"quantitative","scale":{"domain":[-0.75,2.48],"nice":false,"zero":false},"axis":{"orient":"left","values":[-0.4,0,0.4,0.8,1.2,1.6,2.0,2.4],"format":".1f","tickSize":-6,"labelPadding":15,"title":"U","titleFontSize":28,"titleAngle":0,"titleX":-41,"titleY":141,"titleAlign":"center","titleBaseline":"middle"}},
  "color":{"field":"c","type":"nominal","legend":null,"scale":{"domain":[1,2,3,4,5,6,7,8,9,10,11,12,13,14,15,16,17,18,19,20],"range":["#c0392b","#3cb043","#2e4bc6","#c03cc0","#3fc0dc","#d8c83a","#6a3d9a","#4f8a3f","#e04c9a","#222222","#8b1a4a","#2a9d9d","#3a3a3a","#40d0e0","#a0522d","#1f6f8b","#9b59b6","#555555","#b03060","#e8d860"]}}}},
 {"data":{"values":[{"u":1}]},"mark":{"type":"rule","color":"#444","strokeWidth":1.2},"encoding":{
  "y":{"field":"u","type":"quantitative","scale":{"domain":[-0.75,2.48],"nice":false,"zero":false},"axis":{"orient":"right","values":[-0.4,0,0.4,0.8,1.2,1.6,2.0,2.4],"tickSize":-6,"labels":false,"title":null}}}},
 {"data":{"values":[{"h":0,"u":0}]},"mark":{"type":"point","opacity":0},"encoding":{
  "x":{"field":"h","type":"quantitative","scale":{"domain":[0,1],"nice":false,"zero":false},"axis":{"orient":"top","values":[0,0.2,0.4,0.6,0.8,1],"tickSize":-6,"labels":false,"title":null}},
  "y":{"field":"u","type":"quantitative","scale":{"domain":[-0.75,2.48],"nice":false,"zero":false},"axis":{"orient":"left","values":[-0.6,-0.2,0.2,0.6,1.0,1.4,1.8,2.2],"tickSize":-3,"labels":false,"title":null}}}},
 {"data":{"values":[{"h":0,"u":0}]},"mark":{"type":"point","opacity":0},"encoding":{
  "x":{"field":"h","type":"quantitative","scale":{"domain":[0,1],"nice":false,"zero":false},"axis":{"orient":"bottom","values":[0.1,0.3,0.5,0.7,0.9],"tickSize":-3,"labels":false,"title":null}},
  "y":{"field":"u","type":"quantitative","scale":{"domain":[-0.75,2.48],"nice":false,"zero":false},"axis":{"orient":"right","values":[-0.6,-0.2,0.2,0.6,1.0,1.4,1.8,2.2],"tickSize":-3,"labels":false,"title":null}}}},
 {"data":{"values":[{"h":0}]},"mark":{"type":"point","opacity":0},"encoding":{
  "x":{"field":"h","type":"quantitative","scale":{"domain":[0,1],"nice":false,"zero":false},"axis":{"orient":"top","values":[0.1,0.3,0.5,0.7,0.9],"tickSize":-3,"labels":false,"title":null}}}},
 {"data":{"values":[{}]},"mark":{"type":"text","text":["Re = 500","Pr = 7","Ri = 1.5, (Gr = 3.75 x 10\u2075 )"],"lineHeight":26.5,"align":"left","baseline":"alphabetic","font":"Liberation Sans","fontWeight":"bold","fontSize":21,"color":"#111"},"encoding":{
  "x":{"datum":0.346,"type":"quantitative","scale":{"domain":[0,1],"nice":false,"zero":false},"axis":null},
  "y":{"datum":0.05,"type":"quantitative","scale":{"domain":[-0.75,2.48],"nice":false,"zero":false},"axis":null}}}
]}
]
}
